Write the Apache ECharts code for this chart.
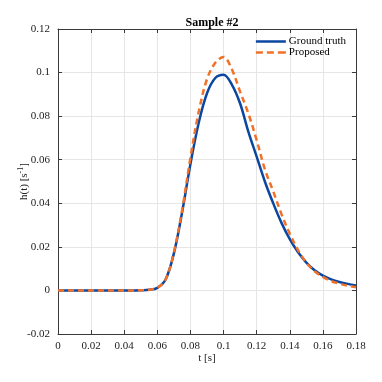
<!DOCTYPE html>
<html>
<head>
<meta charset="utf-8">
<script src="https://cdn.jsdelivr.net/npm/echarts@6/dist/echarts.min.js"></script>
<style>
  html, body { margin: 0; padding: 0; background: #fff; }
  #chart { width: 382px; height: 382px; }
</style>
</head>
<body>
<div id="chart"></div>
<script>
// time samples [s]
const tValues = [0, 0.005, 0.01, 0.015, 0.02, 0.025, 0.03, 0.035, 0.04, 0.045,
  0.05, 0.055, 0.06, 0.065, 0.07, 0.075, 0.08, 0.085, 0.09, 0.095,
  0.1, 0.105, 0.11, 0.115, 0.12, 0.125, 0.13, 0.135, 0.14, 0.145,
  0.15, 0.155, 0.16, 0.165, 0.17, 0.175, 0.18];

const groundTruth = [0, 0, 0, 0, 0, 0, 0, 0, 0, 0,
  0.0001, 0.0003, 0.0012, 0.005, 0.017, 0.036, 0.058, 0.077, 0.0905, 0.0975,
  0.099, 0.0945, 0.0858, 0.0728, 0.0614, 0.0499, 0.040, 0.031, 0.0235, 0.0175,
  0.0128, 0.0093, 0.0068, 0.0051, 0.0039, 0.003, 0.0023];

const proposed = [0, 0, 0, 0, 0, 0, 0, 0, 0, 0,
  0.0001, 0.0003, 0.0012, 0.005, 0.0175, 0.037, 0.061, 0.082, 0.097, 0.1045,
  0.1072, 0.1015, 0.0912, 0.0812, 0.069, 0.0555, 0.0455, 0.035, 0.026, 0.0185,
  0.0128, 0.0088, 0.0062, 0.0043, 0.0031, 0.0022, 0.0015];

const seriesNames = ["Ground truth", "Proposed"];

const FONT = "Liberation Serif, Times New Roman, serif";
const BLUE = "#0b47a1";
const ORANGE = "#f07127";

// legend swatches: a solid bar and a dashed bar
const SOLID_ICON = "path://M0,0h30v2.5h-30z";
const DASH_ICON = "path://M0,0h7v2.5h-7z M11,0h7v2.5h-7z M22,0h8v2.5h-8z";

const pairs = ys => tValues.map((t, i) => [t, ys[i]]);

const chart = echarts.init(document.getElementById("chart"), null, { renderer: "canvas" });

const axisCommon = {
  axisLine: { show: true, onZero: false, lineStyle: { color: "#3a3a3a", width: 1 } },
  axisTick: { show: true, inside: true, length: 4, lineStyle: { color: "#3a3a3a" } },
  axisLabel: { color: "#222", fontFamily: FONT, fontSize: 11 },
  splitLine: { show: true, lineStyle: { color: "#e6e6e6", width: 1 } },
};

// top / right edges of the box
const boxAxis = {
  axisLine: { show: true, onZero: false, lineStyle: { color: "#3a3a3a" } },
  axisTick: { show: true, inside: true, length: 4, lineStyle: { color: "#3a3a3a" } },
  axisLabel: { show: false },
  splitLine: { show: false },
};

chart.setOption({
  backgroundColor: "#fff",
  animation: false,
  textStyle: { fontFamily: FONT },
  title: {
    text: "Sample #2",
    left: 207,
    textAlign: "center",
    top: 12,
    textStyle: { fontFamily: FONT, fontSize: 12, fontWeight: "bold", color: "#000" },
  },
  grid: { left: 58, right: 26, top: 29, bottom: 48 },
  legend: {
    data: [
      { name: seriesNames[0], icon: SOLID_ICON },
      { name: seriesNames[1], icon: DASH_ICON },
    ],
    orient: "vertical",
    right: 31,
    top: 31,
    itemWidth: 30,
    itemHeight: 2.5,
    itemGap: 0,
    textStyle: { fontFamily: FONT, fontSize: 11, color: "#000", padding: [0, 0, 0, -2] },
  },
  xAxis: [
    {
      ...axisCommon,
      type: "value",
      min: 0,
      max: 0.18,
      interval: 0.02,
      name: "t [s]",
      nameLocation: "middle",
      nameGap: 19,
      nameMoveOverlap: false,
      nameTextStyle: { fontFamily: FONT, fontSize: 11, color: "#222", verticalAlign: "top" },
      axisLabel: { ...axisCommon.axisLabel, margin: 7 },
    },
    { ...boxAxis, type: "value", position: "top", min: 0, max: 0.18, interval: 0.02 },
  ],
  yAxis: [
    {
      ...axisCommon,
      type: "value",
      min: -0.02,
      max: 0.12,
      interval: 0.02,
      name: "{n|h(t) [s}{s|-1}{n|]}",
      nameLocation: "middle",
      nameGap: 27,
      nameMoveOverlap: false,
      nameRotate: 90,
      nameTextStyle: {
        rich: {
          n: { fontFamily: FONT, fontSize: 11, color: "#222" },
          s: { fontFamily: FONT, fontSize: 8, color: "#222", verticalAlign: "top", padding: [0, 0, 6, 0] },
        },
      },
      axisLabel: { ...axisCommon.axisLabel, margin: 8 },
    },
    { ...boxAxis, type: "value", position: "right", min: -0.02, max: 0.12, interval: 0.02 },
  ],
  series: [
    {
      name: seriesNames[0],
      type: "line",
      data: pairs(groundTruth),
      smooth: 0.35,
      symbol: "none",
      lineStyle: { color: BLUE, width: 2.5 },
      itemStyle: { color: BLUE },
      z: 2,
    },
    {
      name: seriesNames[1],
      type: "line",
      data: pairs(proposed),
      smooth: 0.35,
      symbol: "none",
      lineStyle: { color: ORANGE, width: 2.5, type: [6, 4] },
      itemStyle: { color: ORANGE },
      z: 3,
    },
  ],
});
</script>
</body>
</html>
